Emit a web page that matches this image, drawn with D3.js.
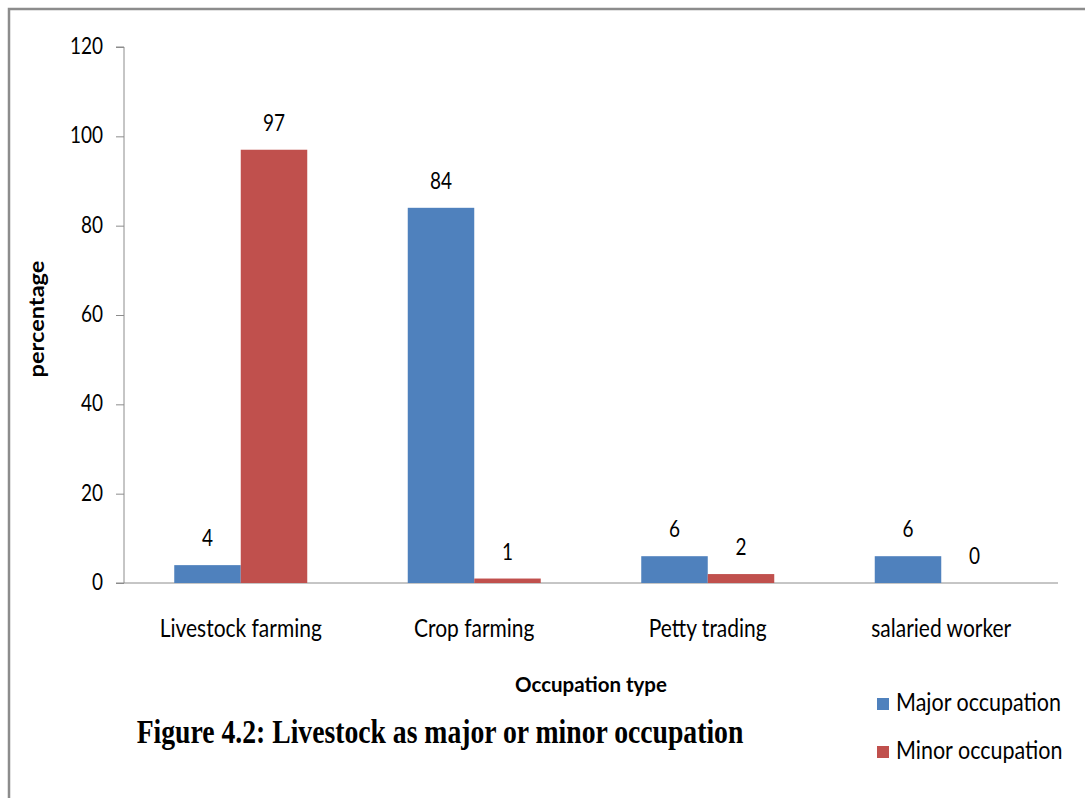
<!DOCTYPE html>
<html><head><meta charset="utf-8">
<script src="https://cdn.jsdelivr.net/npm/d3@7"></script>
<style>body{margin:0;background:#fff}svg{display:block}</style>
</head><body>
<svg id="chart" width="1085" height="798"></svg>
<script>
const categories = ["Livestock farming", "Crop farming", "Petty trading", "salaried worker"];
const seriesNames = ["Major occupation", "Minor occupation"];
const majorValues = [4, 84, 6, 6];
const minorValues = [97, 1, 2, 0];
const yTicks = [0, 20, 40, 60, 80, 100, 120];
const colors = ["#4F81BD", "#C0504D"];

const svg = d3.select("#chart");
const W = 1085, H = 798;
const sans = "Lato, 'Open Sans', sans-serif";
const SY = 1.15;

// outer border
svg.append("path").attr("d", `M9,${H} V9 H${W}`).attr("fill", "none").attr("stroke", "#8c8c8c").attr("stroke-width", 2.5);

const x0 = d3.scaleBand().domain(categories).range([124, 1058]).paddingInner(0).paddingOuter(0);
const x1 = d3.scaleBand().domain(seriesNames).range([0, x0.bandwidth()]).paddingInner(0).paddingOuter(0.7556);
const y = d3.scaleLinear().domain([0, 120]).range([583, 47]);

function stext(g, x, yy, txt, opts) {
  const gg = g.append("g").attr("transform", `translate(${x},${yy}) scale(${opts.sx || 1},${opts.sy || SY})`);
  const t = gg.append("text").text(txt)
    .attr("font-family", opts.family || sans)
    .attr("font-size", opts.size)
    .attr("font-weight", opts.weight || "normal")
    .attr("text-anchor", opts.anchor || "start")
    .attr("fill", "#000");
  return t;
}

// y axis
const yAxis = d3.axisLeft(y).tickValues(yTicks).tickSize(8).tickFormat("");
const ga = svg.append("g").attr("transform", "translate(124,0)").call(yAxis);
ga.selectAll("line").attr("stroke", "#8c8c8c");
ga.select(".domain").attr("stroke", "#8c8c8c").attr("d", `M-8,${y(120)}H0V${y(0)}`);
yTicks.forEach(v => stext(svg, 103, y(v) + 7, String(v), {size: 19, anchor: "end", sy: 1.2}));

// x axis line
const xAxis = d3.axisBottom(x0).tickSize(0).tickFormat("");
const gx = svg.append("g").attr("transform", `translate(0,${y(0)})`).call(xAxis);
gx.select(".domain").attr("stroke", "#8c8c8c").attr("d", `M116,0H1058`);

// bars
const data = categories.map((c, i) => ({c, vals: [majorValues[i], minorValues[i]]}));
const groups = svg.append("g").selectAll("g").data(data).join("g")
  .attr("transform", d => `translate(${x0(d.c)},0)`);
groups.selectAll("rect").data(d => d.vals.map((v, k) => ({k, v}))).join("rect")
  .attr("x", d => x1(seriesNames[d.k]))
  .attr("width", x1.bandwidth())
  .attr("y", d => y(d.v))
  .attr("height", d => y(0) - y(d.v))
  .attr("fill", d => colors[d.k]);

// data labels
data.forEach(d => {
  d.vals.forEach((v, k) => {
    stext(svg, x0(d.c) + x1(seriesNames[k]) + x1.bandwidth() / 2, y(v) - 19, String(v), {size: 19, anchor: "middle", sy: 1.2});
  });
});

// category labels
categories.forEach(c => stext(svg, x0(c) + x0.bandwidth() / 2, 637, c, {size: 21, anchor: "middle"}));

// axis titles
stext(svg, 591, 692, "Occupation type", {size: 20.5, weight: "bold", anchor: "middle", sy: 1.05});
svg.append("g").attr("transform", "translate(44,319) rotate(-90) scale(1.15,1)")
  .append("text").text("percentage")
  .attr("font-family", sans).attr("font-size", 20.5).attr("font-weight", "bold")
  .attr("text-anchor", "middle").attr("fill", "#000");

// chart caption
stext(svg, 440, 743, "Figure 4.2: Livestock as major or minor occupation", {family: "'Liberation Serif', 'Times New Roman', serif", size: 26, weight: "bold", anchor: "middle", sx: 1.065, sy: 1.3});

// legend
const leg = svg.append("g");
seriesNames.forEach((s, i) => {
  const ly = 698 + i * 48;
  leg.append("rect").attr("x", 877).attr("y", ly).attr("width", 12).attr("height", 12).attr("fill", colors[i]);
  stext(leg, 896, ly + 13, s, {size: 21.5});
});
</script>
</body></html>
